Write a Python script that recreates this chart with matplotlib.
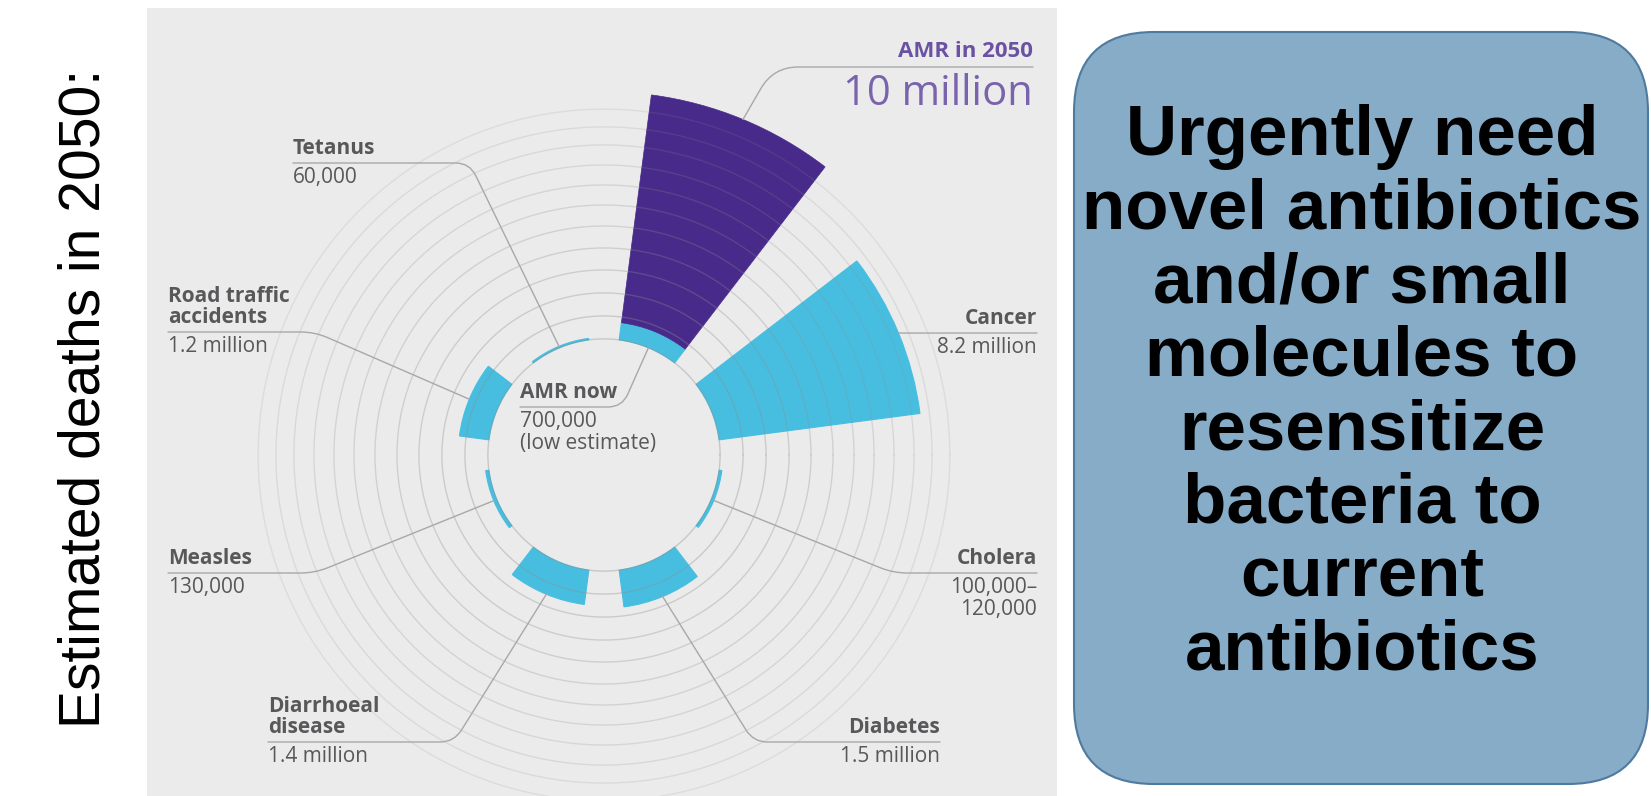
import numpy as np
import matplotlib.pyplot as plt
from matplotlib.patches import Rectangle, FancyBboxPatch

# estimated deaths per year attributable to each cause by 2050 (millions)
names = ["AMR now", "Cancer", "Cholera", "Diabetes", "Diarrhoeal\ndisease",
         "Measles", "Road traffic\naccidents", "Tetanus"]
deaths_m = [0.7, 8.2, 0.11, 1.5, 1.4, 0.13, 1.2, 0.06]
value_labels = ["700,000\n(low estimate)", "8.2 million", "100,000\u2013\n120,000",
                "1.5 million", "1.4 million", "130,000", "1.2 million", "60,000"]
amr_2050 = 10.0
amr_2050_label = "AMR in 2050"
amr_2050_value = "10 million"

side_title = "Estimated deaths in 2050:"
box_lines = ["Urgently need", "novel antibiotics", "and/or small", "molecules to",
             "resensitize", "bacteria to", "current", "antibiotics"]

CYAN = "#47bee0"
PURPLE = "#482a8a"
PURPLE_TXT = "#6b51a3"
TXT = "#58585a"
LEAD = "#a8a8a8"
FONT = "Open Sans"

W, H = 1651, 796
fig = plt.figure(figsize=(W / 100, H / 100), dpi=100)
fig.patch.set_facecolor("white")

# pixel canvas for background, labels and the side box
canvas = fig.add_axes([0, 0, 1, 1], zorder=0)
canvas.set_xlim(0, W)
canvas.set_ylim(H, 0)
canvas.axis("off")
canvas.add_patch(Rectangle((147, 8), 910, 792, color="#ebebeb", lw=0))

# polar chart
CX, CY, RPX = 604, 455, 420
RMAX = 17.0
R0 = 4.7  # hole in the middle
pol = fig.add_axes([(CX - RPX) / W, (H - CY - RPX) / H, 2 * RPX / W, 2 * RPX / H],
                   projection="polar", zorder=1)
pol.set_ylim(0, RMAX)
pol.patch.set_alpha(0)
pol.spines["polar"].set_visible(False)
pol.set_xticks([])
pol.set_yticks([])
pol.grid(False)

theta = np.deg2rad(67.5 - 45 * np.arange(len(names)))
width = np.deg2rad(30)
pol.bar(theta, deaths_m, width=width, bottom=R0, color=CYAN, edgecolor=CYAN,
        lw=0.8, zorder=2)
pol.bar(theta[0], amr_2050 - deaths_m[0], width=width, bottom=R0 + deaths_m[0],
        color=PURPLE, edgecolor=PURPLE, lw=0.5, zorder=2)

# concentric guide rings
rings = [4.7, 5.63, 6.56, 7.49, 8.38, 9.27, 10.12, 10.93, 11.74, 12.55, 13.28, 14.0]
tt = np.linspace(0, 2 * np.pi, 400)
for k, r in enumerate(rings):
    pol.plot(tt, np.full_like(tt, r), color="#8e8e8e", lw=1,
             alpha=0.38 - 0.02 * k, zorder=3)

# leader lines: (x, y) of the underline end, alignment, angle of the slanted part
leaders = [(520, 407, "left", 66), (1037, 333, "right", None), (1037, 573, "right", 158),
           (940, 742, "right", 122), (268, 742, "left", 58), (168, 573, "left", 22),
           (168, 332, "left", -23.5), (293, 163, "left", 116)]

for i, (x, y, ha, ang) in enumerate(leaders):
    r_end = R0 if i == 0 else R0 + deaths_m[i]
    if ang is None:
        cs = "arc3"
    else:
        cs = f"angle,angleA=0,angleB={ang},rad=14"
    pol.annotate("", xy=(theta[i], r_end), xytext=(x, y), textcoords=canvas.transData,
                 arrowprops=dict(arrowstyle="-", color=LEAD, lw=1, shrinkA=0, shrinkB=0,
                                 connectionstyle=cs), zorder=4)
    canvas.text(x, y - 4, names[i], ha=ha, va="bottom", fontsize=15, fontweight="bold",
                color=TXT, family=FONT, linespacing=1.0)
    canvas.text(x, y + 4, value_labels[i], ha=ha, va="top", fontsize=15,
                color=TXT, family=FONT, linespacing=1.05)

# AMR in 2050 call-out
pol.annotate("", xy=(theta[0], R0 + amr_2050), xytext=(1033, 67), textcoords=canvas.transData,
             arrowprops=dict(arrowstyle="-", color=LEAD, lw=1, shrinkA=0, shrinkB=0,
                             connectionstyle="angle,angleA=0,angleB=60,rad=25"), zorder=4)
canvas.text(1033, 62, amr_2050_label, ha="right", va="bottom", fontsize=16,
            fontweight="bold", color=PURPLE_TXT, family=FONT)
canvas.text(1033, 73, amr_2050_value, ha="right", va="top", fontsize=30,
            color="#7a63ad", family=FONT)

# left caption
canvas.text(85, 398, side_title, rotation=90, ha="center", va="center", fontsize=41,
            family="Liberation Sans", color="black")

# right message box
canvas.add_patch(FancyBboxPatch((1074, 32), 574, 752,
                                boxstyle="round,pad=0,rounding_size=80",
                                facecolor="#87acc7", edgecolor="#4f7aa0", lw=1.5))
for j, line in enumerate(box_lines):
    canvas.text(1362, 137 + 73.5 * j, line, ha="center", va="center", fontsize=51,
                fontweight="bold", family="Liberation Sans", color="black")

fig.savefig("out.png", dpi=100)
